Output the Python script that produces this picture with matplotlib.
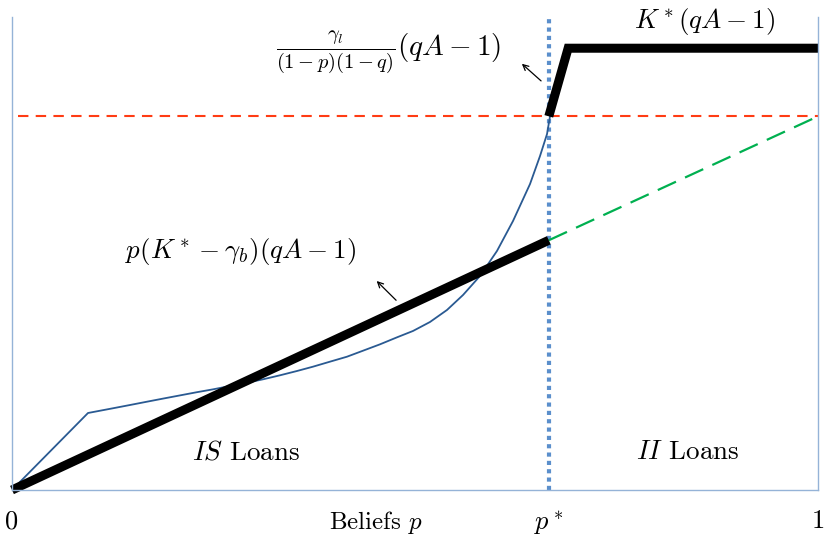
import matplotlib
matplotlib.use("Agg")
import matplotlib.pyplot as plt

plt.rcParams['mathtext.fontset'] = 'cm'
plt.rcParams['font.family'] = ['cmr10', 'DejaVu Serif']
plt.rcParams['axes.unicode_minus'] = False

# threshold belief and levels (axes run 0..1 in both directions)
p_star = 0.666
red_level = 0.79
is_end = 0.528
kink_x = 0.69
top_level = 0.934

# black profit envelope
black_x = [0, p_star]
black_y = [0, is_end]
black2_x = [p_star, kink_x, 1.0]
black2_y = [red_level, top_level, top_level]

# green dashed continuation
green_x = [p_star, 1.0]
green_y = [is_end, red_level]

# blue curve
blue_x = [0.0, 0.0943, 0.1253, 0.1464, 0.1675, 0.1873, 0.2084, 0.2295,
          0.2494, 0.2705, 0.2916, 0.3114, 0.3325, 0.3536, 0.3734, 0.3945,
          0.4156, 0.4355, 0.4566, 0.4777, 0.4975, 0.5186, 0.5397, 0.5596,
          0.5806, 0.6017, 0.6216, 0.6427, 0.6551, 0.6638, 0.6675]
blue_y = [0.0, 0.1628, 0.1728, 0.1797, 0.1867, 0.1932, 0.2000, 0.2068,
          0.2128, 0.2199, 0.2268, 0.2340, 0.2425, 0.2516, 0.2607, 0.2713,
          0.2818, 0.2945, 0.3080, 0.3228, 0.3362, 0.3552, 0.3806, 0.4123,
          0.4524, 0.5053, 0.5687, 0.6469, 0.7061, 0.7526, 0.79]

tick_pos = [0, p_star, 1]
tick_lbl = ['0', '$p^*$', '1']

fig = plt.figure(figsize=(8.25, 5.38), dpi=100)
ax = fig.add_axes([12 / 825, 48 / 538, 806 / 825, 473 / 538])
ax.set_xlim(0, 1)
ax.set_ylim(0, 1)

spine_c = '#95b3d7'
for s in ['left', 'right', 'bottom']:
    ax.spines[s].set_color(spine_c)
    ax.spines[s].set_linewidth(1.0)
ax.spines['top'].set_visible(False)

ax.axhline(red_level, xmin=0.008, color='#ff3c14', lw=1.5, ls=(0, (5, 3.5)))
ax.axvline(p_star, color='#5b8fcc', lw=3, ls=(0, (1, 1)))
ax.plot(green_x, green_y, color='#00b050', lw=1.6, ls=(0, (9, 4.5)))
ax.plot(blue_x, blue_y, color='#2a5a92', lw=1.3)
ax.plot(black_x, black_y, color='black', lw=6.5, solid_capstyle='butt', clip_on=False)
ax.plot(black2_x, black2_y, color='black', lw=6.5, solid_capstyle='butt',
        solid_joinstyle='miter', clip_on=False)

ax.set_xticks(tick_pos)
ax.set_xticklabels(tick_lbl, fontsize=19)
ax.tick_params(axis='x', length=0, pad=14)
ax.set_yticks([])

ax.text(0.4516, -0.068, 'Beliefs $p$', fontsize=18, ha='center', va='center')
ax.text(0.291, 0.08, '$IS$ Loans', fontsize=19.5, ha='center', va='center')
ax.text(0.839, 0.08, '$II$ Loans', fontsize=19.5, ha='center', va='center')
ax.text(0.284, 0.505, r'$p(K^* - \gamma_b)(qA-1)$', fontsize=19.5, ha='center', va='center')
ax.text(0.467, 0.925, r'$\frac{\gamma_l}{(1-p)(1-q)}(qA-1)$', fontsize=21,
        ha='center', va='center')
ax.text(0.859, 0.99, r'$K^*(qA-1)$', fontsize=19.5, ha='center', va='center')

ax.annotate('', xy=(0.45, 0.446), xytext=(0.479, 0.397),
            arrowprops=dict(arrowstyle='->', color='black', lw=0.9))
ax.annotate('', xy=(0.630, 0.905), xytext=(0.659, 0.861),
            arrowprops=dict(arrowstyle='->', color='black', lw=0.9))

fig.savefig('out.png', dpi=100)
